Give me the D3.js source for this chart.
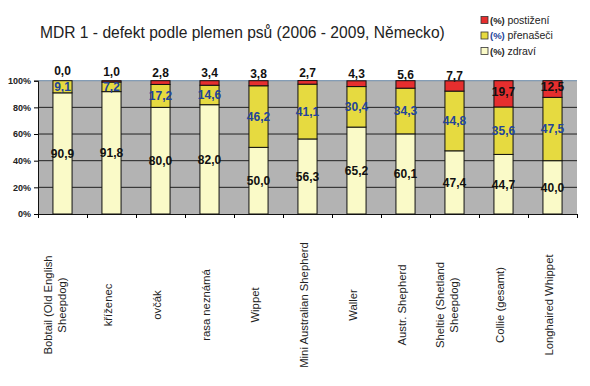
<!DOCTYPE html>
<html>
<head>
<meta charset="utf-8">
<script src="https://cdn.jsdelivr.net/npm/d3@7"></script>
<style>
body{margin:0;background:#fff}
text{font-family:"Liberation Sans",Arial,sans-serif}
</style>
</head>
<body>
<svg id="chart" width="590" height="386"></svg>
<script>
var categories = ["Bobtail (Old English|Sheepdog)","kříženec","ovčák","rasa neznámá","Wippet","Mini Australian Shepherd","Waller","Austr. Shepherd","Sheltie (Shetland|Sheepdog)","Collie (gesamt)","Longhaired Whippet"]
var postizeni = [0.0,1.0,2.8,3.4,3.8,2.7,4.3,5.6,7.7,19.7,12.5]
var prenaseci = [9.1,7.2,17.2,14.6,46.2,41.1,30.4,34.3,44.8,35.6,47.5]
var zdravi = [90.9,91.8,80.0,82.0,50.0,56.3,65.2,60.1,47.4,44.7,40.0]
var yTicks = [0,20,40,60,80,100]
var seriesNames = ["zdraví","přenašeči","postižení"]
var colors = {"zdraví":"#fafac8","přenašeči":"#e6da40","postižení":"#e62e2e"}
var labelColors = {"zdraví":"#111","přenašeči":"#23449a","postižení":"#111"}

var svg = d3.select("#chart")
var pLeft = 38, pRight = 577, pTop = 80.7, pBottom = 214

var x = d3.scaleBand().domain(d3.range(categories.length)).range([pLeft,pRight]).padding(0)
var y = d3.scaleLinear().domain([0,100]).range([pBottom,pTop])
var bw = x.bandwidth()*0.39

var rows = categories.map(function(c,i){return {"zdraví":zdravi[i],"přenašeči":prenaseci[i],"postižení":postizeni[i]}})
var stack = d3.stack().keys(seriesNames)(rows)

// plot area
svg.append("rect").attr("x",pLeft).attr("y",pTop).attr("width",pRight-pLeft).attr("height",pBottom-pTop).attr("fill","#b3b3b3")

// grid
yTicks.forEach(function(t){
	if(t==0) return
	svg.append("line").attr("x1",pLeft).attr("x2",pRight).attr("y1",y(t)).attr("y2",y(t))
		.attr("stroke",t==100 ? "#6d8caa":"#222").attr("stroke-width",1)
})

// bars
stack.forEach(function(s){
	svg.append("g").selectAll("rect").data(s).enter().append("rect")
		.attr("x",function(d,i){return x(i)+x.bandwidth()/2-bw/2})
		.attr("y",function(d){return y(d[1])})
		.attr("width",bw)
		.attr("height",function(d){return y(d[0])-y(d[1])})
		.attr("fill",colors[s.key])
		.attr("stroke","#111").attr("stroke-width",1)
})

// axes
var yAxis = svg.append("g").attr("transform","translate("+pLeft+",0)")
	.call(d3.axisLeft(y).tickValues(yTicks).tickSize(4).tickFormat(function(d){return d+"%"}))
yAxis.select(".domain").attr("stroke","#111")
yAxis.selectAll("text").attr("font-size",9).attr("font-weight","bold").attr("fill","#222").attr("font-family","Liberation Sans, Arial")

var xb = d3.scaleLinear().domain([0,categories.length]).range([pLeft,pRight])
var xAxis = svg.append("g").attr("transform","translate(0,"+pBottom+")")
	.call(d3.axisBottom(xb).tickValues(d3.range(categories.length+1)).tickSize(4).tickSizeOuter(0).tickFormat(""))
xAxis.select(".domain").attr("stroke","#111")

// data labels
stack.forEach(function(s){
	svg.append("g").selectAll("text").data(s).enter().append("text")
		.attr("x",function(d,i){return x(i)+x.bandwidth()/2})
		.attr("y",function(d){
			var c = (y(d[0])+y(d[1]))/2
			if(s.key=="postižení"){
				var h = y(d[0])-y(d[1])
				return h<14 ? c-10 : c-2
			}
			return c
		})
		.attr("dy","0.36em")
		.attr("text-anchor","middle")
		.attr("font-size",12).attr("font-weight","bold")
		.attr("fill",labelColors[s.key])
		.text(function(d){return (d[1]-d[0]).toFixed(1).replace(".",",")})
})

// category labels
categories.forEach(function(c,i){
	var lines = c.split("|")
	var cx = x(i)+x.bandwidth()/2 + (lines.length>1 ? -7.5 : -3)
	var t = svg.append("text").attr("transform","translate("+cx+",305) rotate(-90)")
		.attr("text-anchor","middle").attr("font-size",11.3).attr("fill","#222")
	lines.forEach(function(l,j){
		t.append("tspan").attr("x",0).attr("y",(j-(lines.length-1)/2)*14.5).attr("dy","0.35em").text(l)
	})
})

// title
svg.append("text").attr("x",40).attr("y",38).attr("font-size",15.6).attr("fill","#222").text("MDR 1 - defekt podle plemen psů (2006 - 2009, Německo)")

// legend
var legend = svg.append("g").attr("transform","translate(481,0)")
seriesNames.slice().reverse().forEach(function(n,i){
	var ly = 20+i*15.5
	legend.append("rect").attr("x",0).attr("y",ly-3.5).attr("width",7).attr("height",7).attr("fill",colors[n]).attr("stroke","#333").attr("stroke-width",0.8)
	var t = legend.append("text").attr("x",9).attr("y",ly).attr("dy","0.35em").attr("font-size",10.5)
	t.append("tspan").attr("font-weight","bold").attr("font-size",9.5).attr("fill",n=="přenašeči" ? "#23449a":"#222").text("(%) ")
	t.append("tspan").attr("fill","#222").text(n)
})
</script>
</body>
</html>
